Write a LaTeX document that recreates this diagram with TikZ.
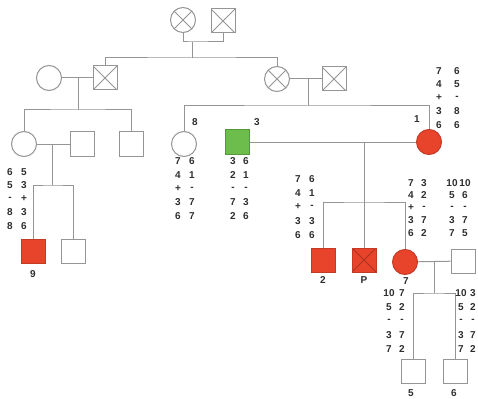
\documentclass[tikz,border=0pt]{standalone}
\usepackage{fontspec}
\setmainfont{Liberation Sans}
\usetikzlibrary{positioning}
\definecolor{pedred}{HTML}{E8432B}
\definecolor{pedgreen}{HTML}{6CBD4C}
\definecolor{pedgray}{HTML}{959595}
\definecolor{txtgray}{HTML}{2E2E2E}

\begin{document}
\begin{tikzpicture}[x=1pt, y=-1pt,
  ped/.style={draw=pedgray, line width=1pt},
  male/.style={rectangle, draw=pedgray, line width=1pt, minimum size=24pt, inner sep=0pt, fill=white},
  female/.style={circle, draw=pedgray, line width=1pt, minimum size=25pt, inner sep=0pt, fill=white},
  crossed/.style={path picture={\draw[#1, line width=0.9pt]
    (path picture bounding box.north west) -- (path picture bounding box.south east)
    (path picture bounding box.north east) -- (path picture bounding box.south west);}},
  crossed/.default=pedgray,
  affected/.style={fill=pedred, draw=pedred!85!black},
  carrier/.style={fill=pedgreen, draw=pedgreen!80!black},
  hap/.style={text=txtgray, font=\fontsize{10}{11}\selectfont\bfseries, inner sep=0pt},
  lbl/.style={text=txtgray, font=\fontsize{10}{11}\selectfont\bfseries, inner sep=0pt}]

\useasboundingbox (0,0) rectangle (478,398);

% Pokolenie I
\node[female, crossed] (g1a) at (183,20) {};
\node[male, crossed] (g1b) at (223,21) {};
\coordinate (m1) at (192,42);
\coordinate (s1) at (192,58);
\draw[ped] (g1a) |- (m1) -| (g1b);
\draw[ped] (m1) -- (s1);

% Pokolenie II
\node[female] (g2a) at (49,78) {};
\node[male, crossed] (g2b) at (105,78) {};
\node[female, crossed] (g2c) at (277,79) {};
\node[male, crossed] (g2d) at (334,79) {};
\draw[ped] (g2b) |- (s1) -| (g2c);
\draw[ped] (g2a) -- (g2b);
\draw[ped] (g2c) -- (g2d);
\coordinate (m2) at (78,78);
\coordinate (s2) at (78,110);
\coordinate (m3) at (308,79);
\coordinate (s3) at (308,106);
\draw[ped] (m2) -- (s2);
\draw[ped] (m3) -- (s3);

% Pokolenie III
\node[female] (g3a) at (24,144) {};
\node[male] (g3b) at (82,144) {};
\node[male] (g3c) at (131,144) {};
\node[female] (g3d) at (184,144) {};
\node[male, carrier] (g3e) at (237,142) {};
\node[female, affected] (g3f) at (429,142) {};
\draw[ped] (g3a) |- (s2) -| (g3c);
\draw[ped] (g3d) |- (s3) -| (g3f);
\draw[ped] (g3a) -- (g3b);
\draw[ped] (g3e) -- (g3f);
\coordinate (m4) at (52,144);
\coordinate (s4) at (52,185);
\coordinate (m5) at (364,142);
\coordinate (s5) at (364,202);
\draw[ped] (m4) -- (s4);
\draw[ped] (m5) -- (s5);

% Pokolenie IV
\node[male, affected] (g4a) at (33,251) {};
\node[male] (g4b) at (73,251) {};
\node[male, affected] (g4c) at (323,260) {};
\node[male, affected, crossed=pedred!75!black] (g4d) at (364,260) {};
\node[female, affected] (g4e) at (405,262) {};
\node[male] (g4f) at (463,261) {};
\draw[ped] (g4a) |- (s4) -| (g4b);
\draw[ped] (g4c) |- (s5) -| (g4e);
\draw[ped] (s5) -- (g4d);
\draw[ped] (g4e) -- (g4f);
\coordinate (m6) at (434,262);
\coordinate (s6) at (434,293);
\draw[ped] (m6) -- (s6);

% Pokolenie V
\node[male] (g5a) at (413,371) {};
\node[male] (g5b) at (455,371) {};
\draw[ped] (g5a) |- (s6) -| (g5b);

% Numery osob
\node[lbl] (l9) at (33,274) {9};
\node[lbl] (l8) at (195,122) {8};
\node[lbl] (l3) at (257,122) {3};
\node[lbl] (l1) at (417,119) {1};
\node[lbl] (l2) at (323,280) {2};
\node[lbl] (lP) at (364,280) {P};
\node[lbl] (l7) at (406,281) {7};
\node[lbl] (l5) at (411,393) {5};
\node[lbl] (l6) at (454,393) {6};

% Haplotypy
\foreach \r/\a/\b in {0/6/5, 1/5/3, 2/-/+, 3/8/3, 4/8/6} {
  \node[hap] (h9a\r) at (10,{172+13.5*\r}) {\a};
  \node[hap] (h9b\r) at (24,{172+13.5*\r}) {\b};
}
\foreach \r/\a/\b in {0/7/6, 1/4/1, 2/+/-, 3/3/7, 4/6/7} {
  \node[hap] (h8a\r) at (178,{161+13.8*\r}) {\a};
  \node[hap] (h8b\r) at (192,{161+13.8*\r}) {\b};
}
\foreach \r/\a/\b in {0/3/6, 1/2/1, 2/-/-, 3/7/3, 4/2/6} {
  \node[hap] (h3a\r) at (233,{161+13.8*\r}) {\a};
  \node[hap] (h3b\r) at (246,{161+13.8*\r}) {\b};
}
\foreach \r/\a/\b in {0/7/6, 1/4/5, 2/+/-, 3/3/8, 4/6/6} {
  \node[hap] (h1a\r) at (439,{71+13.5*\r}) {\a};
  \node[hap] (h1b\r) at (457,{71+13.5*\r}) {\b};
}
\foreach \r/\a/\b in {0/7/6, 1/4/1, 2/+/-, 3/3/3, 4/6/6} {
  \node[hap] (h2a\r) at (298,{179+14*\r}) {\a};
  \node[hap] (h2b\r) at (312,{179+14*\r}) {\b};
}
\foreach \r/\a/\b in {0/7/3, 1/4/2, 2/+/-, 3/3/7, 4/6/2} {
  \node[hap] (h7a\r) at (411,{183+12.5*\r}) {\a};
  \node[hap] (h7b\r) at (424,{183+12.5*\r}) {\b};
}
\foreach \r/\a/\b in {0/10/10, 1/5/6, 2/-/-, 3/3/7, 4/7/5} {
  \node[hap] (h0a\r) at (452,{183+12.5*\r}) {\a};
  \node[hap] (h0b\r) at (465,{183+12.5*\r}) {\b};
}
\foreach \r/\a/\b in {0/10/7, 1/5/2, 2/-/-, 3/3/7, 4/7/2} {
  \node[hap] (h5a\r) at (389,{293+14*\r}) {\a};
  \node[hap] (h5b\r) at (402,{293+14*\r}) {\b};
}
\foreach \r/\a/\b in {0/10/3, 1/5/2, 2/-/-, 3/3/7, 4/7/2} {
  \node[hap] (h6a\r) at (461,{293+14*\r}) {\a};
  \node[hap] (h6b\r) at (473,{293+14*\r}) {\b};
}

\end{tikzpicture}
\end{document}
